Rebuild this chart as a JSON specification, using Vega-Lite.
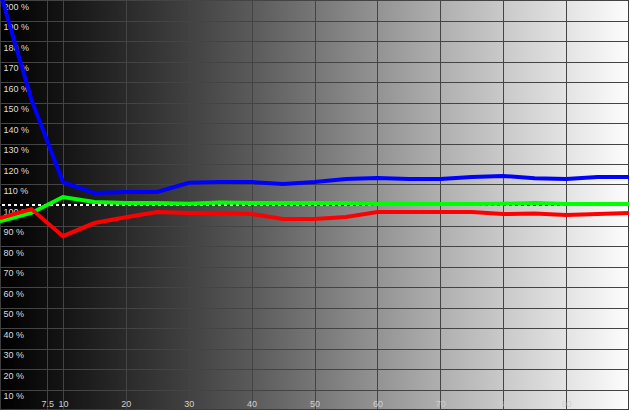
{
  "$schema": "https://vega.github.io/schema/vega-lite/v6.json",
  "autosize": "none",
  "width": 629,
  "height": 410,
  "padding": 0,
  "background": "#000000",
  "config": {
    "view": {
      "stroke": "#3c3c3c",
      "strokeWidth": 2,
      "fill": {
        "gradient": "linear",
        "x1": 0, "y1": 0, "x2": 1, "y2": 0,
        "stops": [
          {"offset": 0, "color": "#000000"},
          {"offset": 0.1, "color": "#141414"},
          {"offset": 0.2, "color": "#2a2a2a"},
          {"offset": 0.3, "color": "#414141"},
          {"offset": 0.4, "color": "#5a5a5a"},
          {"offset": 0.5, "color": "#767676"},
          {"offset": 0.6, "color": "#939393"},
          {"offset": 0.7, "color": "#afafaf"},
          {"offset": 0.8, "color": "#c9c9c9"},
          {"offset": 0.9, "color": "#e3e3e3"},
          {"offset": 1, "color": "#fdfdfd"}
        ]
      }
    },
    "axis": {
      "domain": false,
      "ticks": false,
      "tickSize": 0,
      "title": null,
      "grid": true,
      "gridColor": "#444444",
      "gridWidth": 1,
      "gridOpacity": 1,
      "labelFont": "Liberation Sans",
      "labelFontSize": 9,
      "labelFlush": false,
      "labelOverlap": false
    }
  },
  "data": {
    "values": [
      {"x": 0, "v": 204, "s": "B"}, {"x": 5, "v": 151.4, "s": "B"}, {"x": 10, "v": 111.2, "s": "B"},
      {"x": 15, "v": 105.9, "s": "B"}, {"x": 20, "v": 106.4, "s": "B"}, {"x": 25, "v": 106.4, "s": "B"},
      {"x": 30, "v": 110.8, "s": "B"}, {"x": 35, "v": 111.2, "s": "B"}, {"x": 40, "v": 111.2, "s": "B"},
      {"x": 45, "v": 110.3, "s": "B"}, {"x": 50, "v": 111.2, "s": "B"}, {"x": 55, "v": 112.7, "s": "B"},
      {"x": 60, "v": 113.2, "s": "B"}, {"x": 65, "v": 112.7, "s": "B"}, {"x": 70, "v": 112.7, "s": "B"},
      {"x": 75, "v": 113.7, "s": "B"}, {"x": 80, "v": 114.2, "s": "B"}, {"x": 85, "v": 113.0, "s": "B"},
      {"x": 90, "v": 112.7, "s": "B"}, {"x": 95, "v": 113.7, "s": "B"}, {"x": 100, "v": 113.7, "s": "B"},

      {"x": 0, "v": 92.0, "s": "G"}, {"x": 5, "v": 96.1, "s": "G"}, {"x": 10, "v": 103.9, "s": "G"},
      {"x": 15, "v": 101.5, "s": "G"}, {"x": 20, "v": 101.0, "s": "G"}, {"x": 25, "v": 101.0, "s": "G"},
      {"x": 30, "v": 100.6, "s": "G"}, {"x": 35, "v": 101.2, "s": "G"}, {"x": 40, "v": 101.0, "s": "G"},
      {"x": 45, "v": 101.0, "s": "G"}, {"x": 50, "v": 101.0, "s": "G"}, {"x": 55, "v": 101.0, "s": "G"},
      {"x": 60, "v": 100.5, "s": "G"}, {"x": 65, "v": 100.5, "s": "G"}, {"x": 70, "v": 100.5, "s": "G"},
      {"x": 75, "v": 100.5, "s": "G"}, {"x": 80, "v": 100.6, "s": "G"}, {"x": 85, "v": 101.0, "s": "G"},
      {"x": 90, "v": 100.5, "s": "G"}, {"x": 95, "v": 100.5, "s": "G"}, {"x": 100, "v": 100.5, "s": "G"},

      {"x": 0, "v": 93.6, "s": "R"}, {"x": 5, "v": 98.0, "s": "R"}, {"x": 10, "v": 84.8, "s": "R"},
      {"x": 15, "v": 91.2, "s": "R"}, {"x": 20, "v": 94.0, "s": "R"}, {"x": 25, "v": 96.6, "s": "R"},
      {"x": 30, "v": 96.1, "s": "R"}, {"x": 35, "v": 96.1, "s": "R"}, {"x": 40, "v": 95.6, "s": "R"},
      {"x": 45, "v": 93.2, "s": "R"}, {"x": 50, "v": 93.2, "s": "R"}, {"x": 55, "v": 94.1, "s": "R"},
      {"x": 60, "v": 96.6, "s": "R"}, {"x": 65, "v": 96.6, "s": "R"}, {"x": 70, "v": 96.6, "s": "R"},
      {"x": 75, "v": 96.6, "s": "R"}, {"x": 80, "v": 95.6, "s": "R"}, {"x": 85, "v": 95.8, "s": "R"},
      {"x": 90, "v": 95.1, "s": "R"}, {"x": 95, "v": 95.6, "s": "R"}, {"x": 100, "v": 96.1, "s": "R"}
    ]
  },
  "encoding": {
    "x": {
      "field": "x", "type": "quantitative",
      "scale": {"domain": [0, 100], "nice": false, "zero": false},
      "axis": {
        "orient": "bottom",
        "values": [7.5, 10, 20, 30, 40, 50, 60, 70, 80, 90],
        "labelExpr": "'' + datum.value",
        "labelColor": "#d0d0d0",
        "labelPadding": -11,
        "labelBaseline": "top",
        "labelAlign": "center"
      }
    },
    "y": {
      "field": "v", "type": "quantitative",
      "scale": {"domain": [0, 200], "nice": false, "zero": false},
      "axis": {
        "orient": "left",
        "values": [10, 20, 30, 40, 50, 60, 70, 80, 90, 100, 110, 120, 130, 140, 150, 160, 170, 180, 190, 200],
        "labelExpr": "datum.value + ' %'",
        "labelColor": "#dcdcdc",
        "labelAlign": "left",
        "labelBaseline": "top",
        "labelPadding": -3,
        "labelOffset": 2
      }
    }
  },
  "layer": [
    {
      "mark": {"type": "rule", "color": "#000000", "strokeWidth": 1},
      "encoding": {"y": {"datum": 100}, "x": null}
    },
    {
      "mark": {"type": "rule", "color": "#ffffff", "strokeWidth": 1, "strokeDash": [3, 3]},
      "encoding": {"y": {"datum": 100}, "x": null}
    },
    {
      "transform": [{"filter": "datum.s === 'B'"}],
      "mark": {"type": "line", "color": "#0000ff", "strokeWidth": 4, "clip": true}
    },
    {
      "transform": [{"filter": "datum.s === 'G'"}],
      "mark": {"type": "line", "color": "#00ff00", "strokeWidth": 4, "clip": true}
    },
    {
      "transform": [{"filter": "datum.s === 'R'"}],
      "mark": {"type": "line", "color": "#ff0000", "strokeWidth": 4, "clip": true}
    }
  ]
}
